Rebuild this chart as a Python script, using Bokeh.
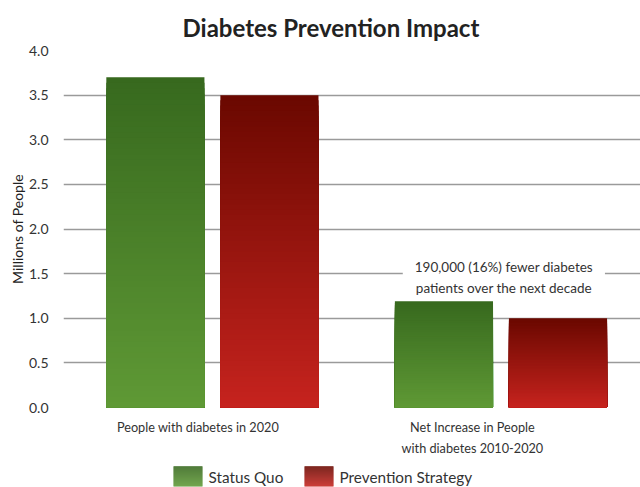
from bokeh.plotting import figure
from bokeh.layouts import column
from bokeh.models import Range1d, FixedTicker, Title, ColumnDataSource
from bokeh.core.properties import value
from bokeh.embed import file_html
from bokeh.resources import INLINE

# ---- data ----
categories = ["People with diabetes in 2020", "Net Increase in People\nwith diabetes 2010-2020"]
series_names = ["Status Quo", "Prevention Strategy"]
status_quo = [3.70, 1.19]
prevention = [3.50, 1.00]
y_ticks = [0.0, 0.5, 1.0, 1.5, 2.0, 2.5, 3.0, 3.5, 4.0]
y_tick_labels = ["0.0", "0.5", "1.0", "1.5", "2.0", "2.5", "3.0", "3.5", "4.0"]
annotation_text = "190,000 (16%) fewer diabetes\npatients over the next decade"

# ---- style ----
FONT = "Lato"
grad_colors = {
    "Status Quo": ((0x5f, 0x99, 0x35), (0x37, 0x69, 0x1e)),          # bottom, top
    "Prevention Strategy": ((0xc6, 0x23, 0x1e), (0x6a, 0x08, 0x00)),
}
offsets = [-0.1976, 0.1976]
bar_w = 0.34
label_shift = [-0.05, -0.099]
N = 60


def hexc(c):
    return "#%02x%02x%02x" % tuple(int(round(v)) for v in c)


def grad(name, t):
    bot, top = grad_colors[name]
    return hexc([bot[j] + (top[j] - bot[j]) * t for j in range(3)])


p = figure(width=640, height=462, output_backend="svg", toolbar_location=None,
           x_range=Range1d(-0.516, 1.4835), y_range=Range1d(0, 4),
           min_border_left=63, min_border_right=0, min_border_top=50, min_border_bottom=55)
p.outline_line_color = None

for s, name, vals in zip(range(2), series_names, [status_quo, prevention]):
    L, R, T, B, C = [], [], [], [], []
    for k in range(N):
        col = grad(name, (N - k - 0.5) / N)
        for i, v in enumerate(vals):
            cx = i + offsets[s]
            L.append(cx - bar_w / 2)
            R.append(cx + bar_w / 2)
            B.append(0)
            T.append(v * (N - k) / N)
            C.append(col)
    src = ColumnDataSource(dict(left=L, right=R, top=T, bottom=B, color=C))
    p.quad(left="left", right="right", top="top", bottom="bottom", source=src,
           fill_color="color", line_color=None)

# annotation above second group
p.text(x=[1.01], y=[1.455], text=[annotation_text], text_align="center", text_baseline="middle",
       text_font=value(FONT), text_font_size="13.5px", text_color="#333333", text_line_height=1.33,
       background_fill_color="white", padding=(12, 3))

# axes
p.yaxis.ticker = FixedTicker(ticks=y_ticks)
p.yaxis.major_label_overrides = {t: l for t, l in zip(y_ticks, y_tick_labels)}
p.yaxis.axis_line_color = None
p.yaxis.major_tick_line_color = None
p.yaxis.minor_tick_line_color = None
p.yaxis.major_label_standoff = 9
p.yaxis.major_label_text_font = FONT
p.yaxis.major_label_text_font_size = "14px"
p.yaxis.major_label_text_color = "#333333"
p.yaxis.axis_label = "Millions of People"
p.yaxis.axis_label_text_font = FONT
p.yaxis.axis_label_text_font_style = "normal"
p.yaxis.axis_label_text_font_size = "14px"
p.yaxis.axis_label_text_color = "#222222"
p.yaxis.axis_label_standoff = 0

p.xaxis.ticker = FixedTicker(ticks=[i + d for i, d in enumerate(label_shift)])
p.xaxis.major_label_overrides = {i + d: c for i, (d, c) in enumerate(zip(label_shift, categories))}
p.xaxis.axis_line_color = None
p.xaxis.major_tick_line_color = None
p.xaxis.minor_tick_line_color = None
p.xaxis.major_label_standoff = 5
p.xaxis.major_label_text_font = FONT
p.xaxis.major_label_text_font_size = "12.7px"
p.xaxis.major_label_text_line_height = 1.35
p.xaxis.major_label_text_color = "#333333"

p.xgrid.grid_line_color = None
p.ygrid.grid_line_color = "#9a9a9a"
p.ygrid.grid_line_width = 1.5

p.add_layout(Title(text="Diabetes Prevention Impact", align="left", offset=119, text_font=FONT,
                   text_font_size="24px", text_font_style="bold", text_color="#222222",
                   standoff=18), "above")

# ---- legend strip (gradient swatches); frame is aligned with the main frame (x 63..640) ----
leg = figure(width=640, height=25, output_backend="svg", toolbar_location=None,
             x_range=Range1d(63, 640), y_range=Range1d(0, 25),
             min_border=0, min_border_left=63, x_axis_location=None, y_axis_location=None)
leg.outline_line_color = None
leg.xgrid.grid_line_color = None
leg.ygrid.grid_line_color = None
sw_x = [173, 304]
M = 20
for name, x0 in zip(series_names, sw_x):
    L, R, T, B, C = [], [], [], [], []
    for k in range(M):
        L.append(x0)
        R.append(x0 + 29)
        B.append(1 + 20 * k / M)
        T.append(1 + 20 * (k + 1) / M + 0.3)
        C.append(grad(name, (k + 0.5) / M))
    leg.quad(left=L, right=R, top=T, bottom=B, fill_color=C, line_color=None)
    leg.text(x=[x0 + 35], y=[11], text=[name], text_align="left", text_baseline="middle",
             text_font=value(FONT), text_font_size="15.3px", text_color="#333333")

open("out.html", "w").write(file_html(column(p, leg, spacing=0), INLINE))
